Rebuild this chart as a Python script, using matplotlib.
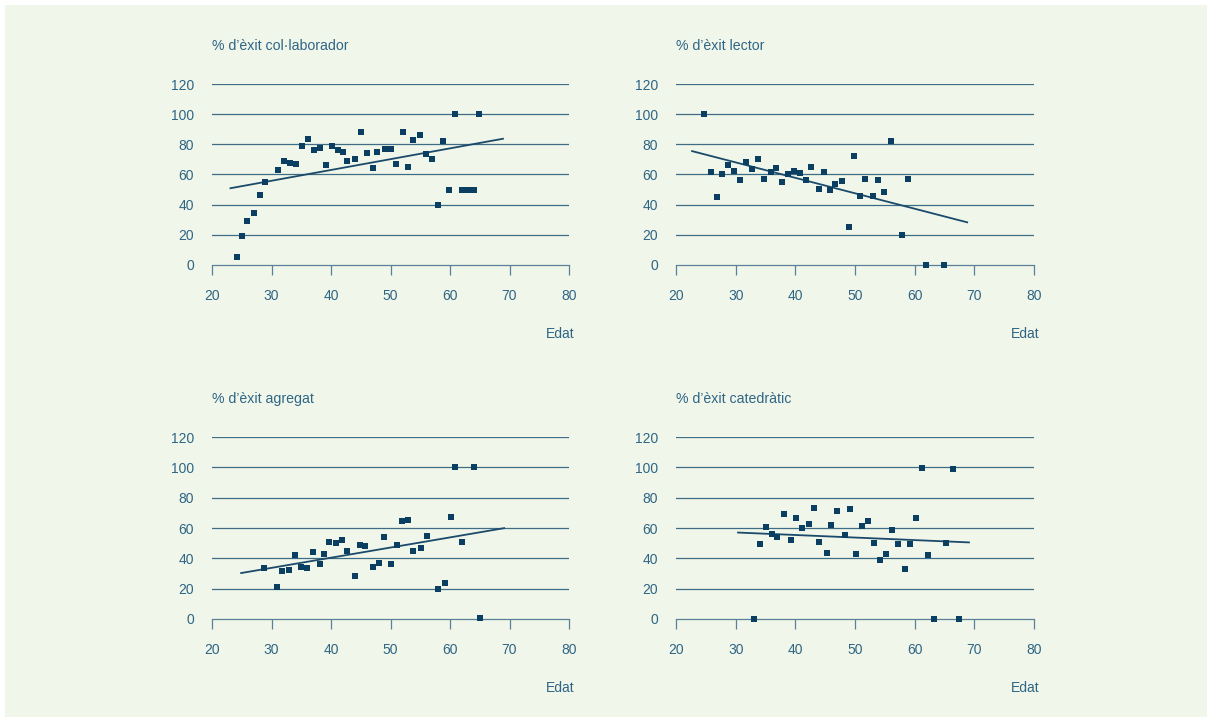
import matplotlib.pyplot as plt
from matplotlib.patches import Rectangle

plt.rcParams['font.family'] = ['Liberation Sans', 'DejaVu Sans']

# ---------- data ----------
titles = ["% d’èxit col·laborador", "% d’èxit lector",
          "% d’èxit agregat", "% d’èxit catedràtic"]

colab_age = [24.2, 25.1, 25.9, 27.1, 28.1, 28.9, 31.1, 32.1, 33.1, 34.2, 35.1,
             36.1, 37.1, 38.2, 39.1, 40.1, 41.1, 42.1, 42.7, 44.1, 45.1, 46.1,
             47.1, 47.7, 49.1, 50.1, 50.9, 52.1, 52.9, 53.7, 54.9, 55.9, 56.9,
             57.9, 58.9, 59.9, 60.9, 62.1, 63.1, 64.1, 64.9]
colab_pct = [5.5, 19, 29, 34.5, 46.5, 55, 63, 69, 67.5, 67, 79, 83.5, 76, 77.5,
             66, 79, 76, 75, 69, 70, 88, 74, 64.5, 75, 77, 77, 67, 88, 65, 83,
             86, 73.5, 70, 40, 82, 50, 100, 50, 50, 50, 100]
colab_trend = ([23.1, 68.9], [50.9, 83.7])

lector_age = [24.7, 25.9, 26.9, 27.7, 28.7, 29.7, 30.7, 31.7, 32.7, 33.7, 34.7,
              35.9, 36.8, 37.8, 38.8, 39.8, 40.8, 41.8, 42.6, 44.0, 44.8, 45.8,
              46.6, 47.8, 49.0, 49.8, 50.8, 51.7, 53.0, 53.9, 54.9, 56.0, 57.9,
              58.9, 61.9, 64.9]
lector_pct = [100, 61.5, 45, 60, 66, 62.5, 56.5, 68, 63.5, 70, 57, 61.5, 64.5,
              55, 60.5, 62.5, 61, 56.5, 65, 50.5, 61.5, 50, 54, 56, 25.5, 72,
              46, 57, 46, 56.5, 48.5, 82.5, 20, 57, 0, 0]
lector_trend = ([22.7, 68.8], [75.5, 28.3])

agreg_age = [28.7, 30.9, 31.7, 32.9, 33.9, 34.9, 35.9, 36.9, 38.1, 38.9, 39.7,
             40.9, 41.9, 42.7, 44.1, 44.9, 45.7, 47.1, 48.1, 48.9, 50.1, 51.1,
             51.9, 52.9, 53.7, 55.1, 56.1, 57.9, 59.1, 60.1, 60.9, 62.1, 64.1,
             65.1]
agreg_pct = [33.5, 21, 31.5, 32, 42, 34, 33.5, 44.5, 36.5, 43, 51, 50, 52, 45,
             28.5, 49, 48, 34, 37, 54, 36, 48.5, 64.5, 65, 45, 46.5, 55, 20,
             23.5, 67, 100, 50.5, 100, 0.5]
agreg_trend = ([24.9, 69.1], [30.3, 59.9])

cated_age = [33.1, 34.1, 35.1, 36.1, 36.9, 38.1, 39.3, 40.1, 41.1, 42.3, 43.1,
             44.0, 45.3, 46.0, 47.0, 48.3, 49.2, 50.2, 51.2, 52.2, 53.2, 54.2,
             55.2, 56.2, 57.2, 58.4, 59.2, 60.2, 61.2, 62.2, 63.2, 65.3, 66.4,
             67.4]
cated_pct = [0, 49.5, 60.5, 56, 54, 69, 52, 66.5, 60, 62.5, 73, 50.5, 43.5, 62,
             71, 55.5, 72.5, 43, 61, 64.5, 50, 39, 43, 59, 49.5, 33, 49.5, 66.5,
             99.5, 42, 0, 50, 99, 0]
cated_trend = ([30.4, 69.1], [57.0, 50.5])

panels = [(colab_age, colab_pct, colab_trend),
          (lector_age, lector_pct, lector_trend),
          (agreg_age, agreg_pct, agreg_trend),
          (cated_age, cated_pct, cated_trend)]

y_ticks = [0, 20, 40, 60, 80, 100, 120]
x_ticks = [20, 30, 40, 50, 60, 70, 80]

# ---------- styling ----------
W, H = 1211, 722
bg = '#f0f6e9'
txt = '#2f6585'
grid_c = '#3f6d86'
mark_c = '#0b3f61'
line_c = '#1b4a6b'

fig = plt.figure(figsize=(W / 100, H / 100), dpi=100, facecolor='white')
fig.patches.append(Rectangle((5 / W, 5 / H), 1202 / W, 712 / H,
                             transform=fig.transFigure, facecolor=bg,
                             edgecolor='none', zorder=-10))

# axes boxes in pixels: left, top, right, bottom
boxes = [(212, 84, 569, 265), (676, 84, 1034, 265),
         (212, 437, 569, 619), (676, 437, 1034, 619)]

for (x, y, trend), title, (l, t, r, b) in zip(panels, titles, boxes):
    ax = fig.add_axes([l / W, 1 - b / H, (r - l) / W, (b - t) / H])
    ax.set_facecolor('none')
    ax.set_xlim(20, 80)
    ax.set_ylim(0, 120)
    for v in y_ticks[1:]:
        ax.axhline(v, color=grid_c, lw=0.9, zorder=1)
    for s in ['top', 'right', 'left']:
        ax.spines[s].set_visible(False)
    ax.spines['bottom'].set_color('#5a8199')
    ax.spines['bottom'].set_linewidth(0.9)

    ax.plot(trend[0], trend[1], color=line_c, lw=1.3, zorder=2)
    ax.plot(x, y, 's', color=mark_c, ms=4, mew=0, zorder=3, clip_on=False)

    ax.set_xticks(x_ticks)
    ax.set_yticks(y_ticks)
    ax.tick_params(axis='x', direction='out', length=7, width=0.9,
                   color='#5a8199', labelcolor=txt, labelsize=10, pad=10)
    ax.tick_params(axis='y', length=0, labelcolor=txt, labelsize=10, pad=13)

    ax.text(0, 1 + 38 / (b - t), title, transform=ax.transAxes,
            ha='left', va='center', color=txt, fontsize=10.2)
    ax.text(1.015, -69 / (b - t), 'Edat', transform=ax.transAxes,
            ha='right', va='center', color=txt, fontsize=10)

fig.savefig('out.png', dpi=100, facecolor='white')
